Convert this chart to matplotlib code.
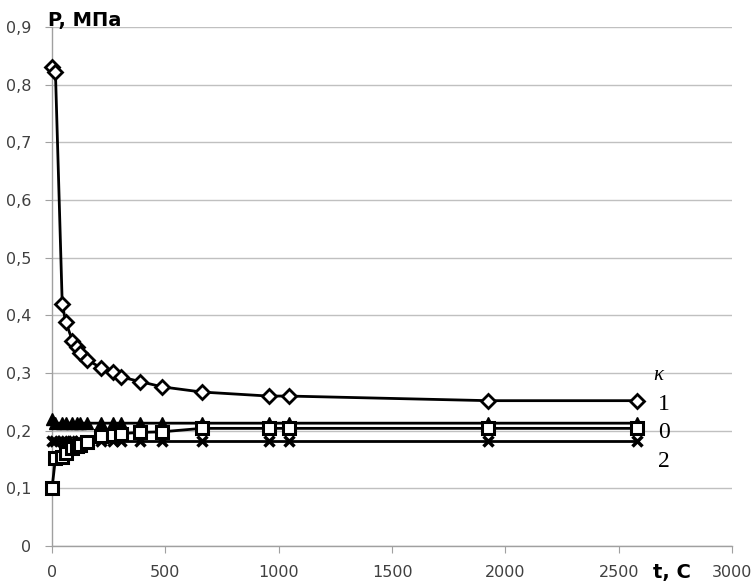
import numpy as np
import matplotlib
matplotlib.use('Agg')
import matplotlib.pyplot as plt
from matplotlib.ticker import FuncFormatter

# ---- data ----
t = [0, 15, 45, 60, 90, 110, 125, 155, 215, 270, 305, 390, 485, 660, 955, 1045, 1925, 2580]

p_diamond = [0.830, 0.822, 0.420, 0.389, 0.356, 0.345, 0.335, 0.323, 0.309, 0.302,
             0.293, 0.285, 0.276, 0.267, 0.260, 0.260, 0.252, 0.252]
p_triangle = [0.220, 0.213, 0.213, 0.213, 0.213, 0.213, 0.213, 0.213, 0.213, 0.213,
              0.213, 0.213, 0.213, 0.213, 0.213, 0.213, 0.213, 0.213]
p_square = [0.100, 0.152, 0.155, 0.162, 0.170, 0.173, 0.176, 0.180, 0.190, 0.193,
            0.195, 0.197, 0.198, 0.204, 0.204, 0.204, 0.204, 0.204]
p_cross = [0.182, 0.182, 0.182, 0.182, 0.182, 0.182, 0.182, 0.182, 0.182, 0.182,
           0.182, 0.182, 0.182, 0.182, 0.182, 0.182, 0.182, 0.182]

kappa_labels = ['1', '0', '2']
kappa_y = [0.245, 0.197, 0.147]

# ---- figure ----
fig = plt.figure(figsize=(7.54, 5.84), dpi=100)
ax = fig.add_axes([0.069, 0.065, 0.902, 0.889])

lw = 2.0
ax.plot(t, p_cross, '-', color='black', lw=lw, marker='x', ms=7, mew=2.5, zorder=3, clip_on=False)
ax.plot(t, p_square, '-', color='black', lw=lw, marker='s', ms=8, mfc='white', mec='black', mew=2.2, zorder=4, clip_on=False)
ax.plot(t, p_triangle, '-', color='black', lw=lw, marker='^', ms=8, mfc='black', mec='black', zorder=3, clip_on=False)
ax.plot(t, p_diamond, '-', color='black', lw=lw, marker='D', ms=7, mfc='white', mec='black', mew=2.0, zorder=5, clip_on=False)

ax.set_xlim(0, 3000)
ax.set_ylim(0, 0.9)
ax.set_xticks(np.arange(0, 3001, 500))
ax.set_yticks(np.arange(0, 0.91, 0.1))

comma = FuncFormatter(lambda v, pos: ('%.1f' % v).replace('.', ',') if v != 0 else '0')
ax.yaxis.set_major_formatter(comma)
ax.xaxis.set_major_formatter(FuncFormatter(lambda v, pos: '%d' % v))

ax.grid(True, axis='y', color='#c0c0c0', lw=1.0)
ax.set_axisbelow(True)
for s in ['top', 'right']:
    ax.spines[s].set_visible(False)
for s in ['left', 'bottom']:
    ax.spines[s].set_color('#a0a0a0')
    ax.spines[s].set_linewidth(1.0)
ax.tick_params(axis='both', colors='#a0a0a0', labelcolor='#404040', labelsize=11.5, length=5)
ax.tick_params(axis='y', pad=10)
ax.tick_params(axis='x', pad=9)

fig.text(0.064, 0.965, 'P, МПа', fontsize=14, fontweight='bold', ha='left', va='center')
fig.text(0.866, 0.019, 't, С', fontsize=14, fontweight='bold', ha='left', va='center')

ax.text(2650, 0.295, 'κ', fontsize=15, family='Liberation Serif', style='italic', ha='left', va='center')
for lab, yy in zip(kappa_labels, kappa_y):
    ax.text(2672, yy, lab, fontsize=17, family='Liberation Serif', ha='left', va='center')

fig.savefig('out.png', dpi=100)
